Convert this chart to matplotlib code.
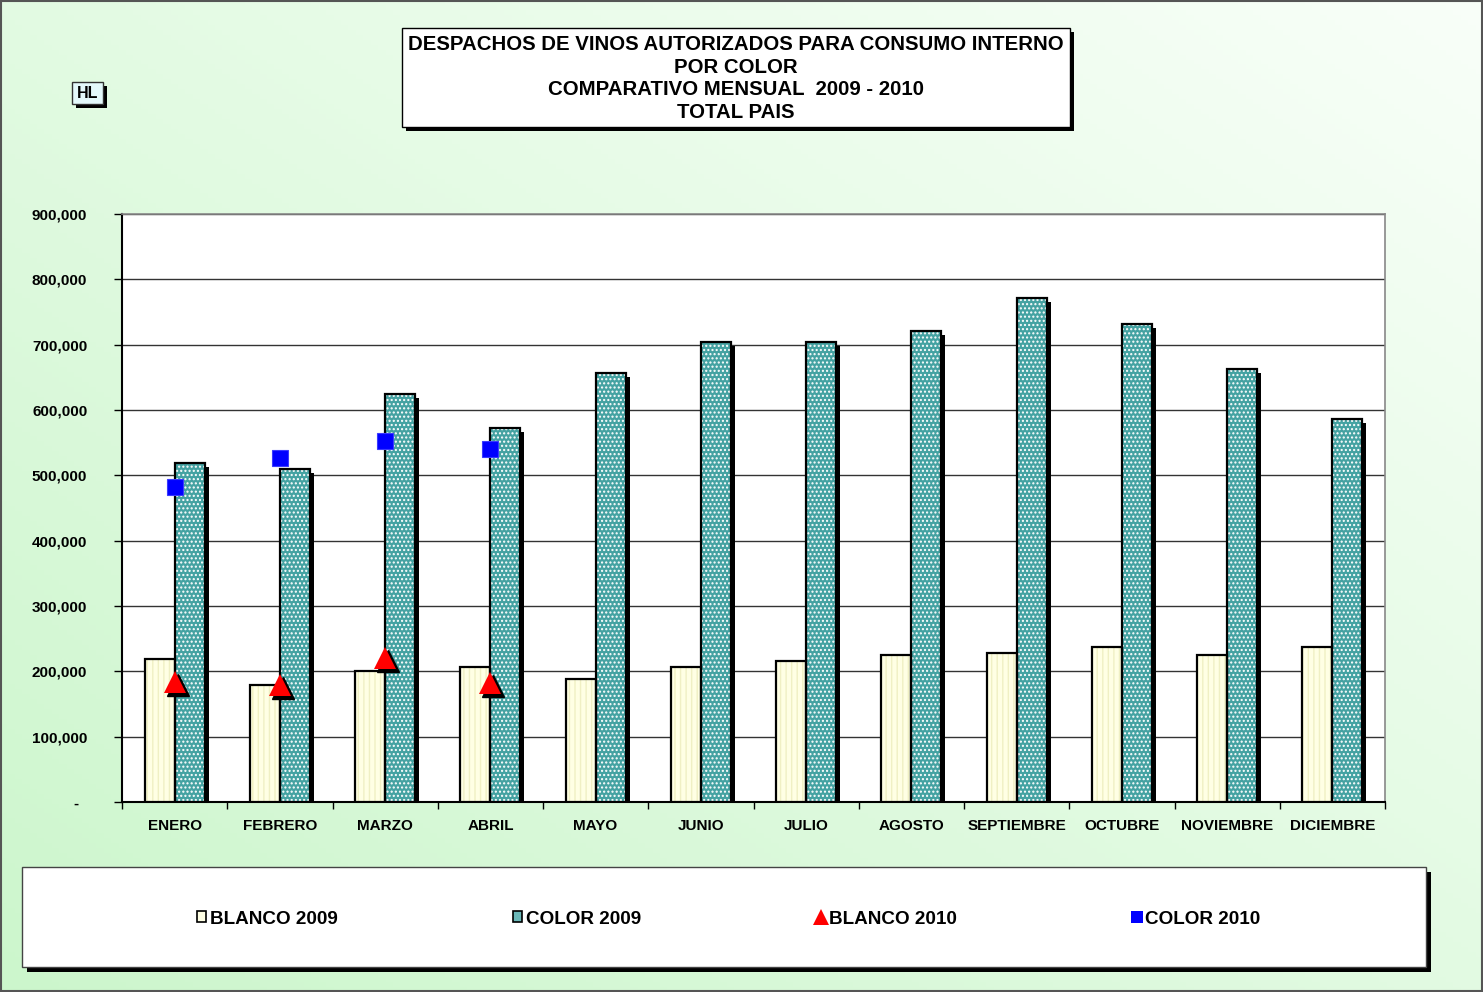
import numpy as np
import matplotlib
matplotlib.use('Agg')
import matplotlib.pyplot as plt
from matplotlib.patches import Rectangle, Patch
from matplotlib.lines import Line2D
from matplotlib.transforms import offset_copy
from matplotlib.ticker import FuncFormatter, FixedLocator

plt.rcParams['font.family'] = ['Liberation Sans', 'DejaVu Sans']
plt.rcParams['font.weight'] = 'bold'

months = ["ENERO", "FEBRERO", "MARZO", "ABRIL", "MAYO", "JUNIO", "JULIO",
          "AGOSTO", "SEPTIEMBRE", "OCTUBRE", "NOVIEMBRE", "DICIEMBRE"]
blanco_2009 = [219000, 179000, 200500, 206000, 188000, 206000, 216000,
               225000, 228000, 237000, 225000, 237000]
color_2009 = [519000, 510000, 624500, 572500, 656500, 704000, 704000,
              721000, 771500, 731500, 662500, 586500]
blanco_2010 = [184000, 179000, 220000, 182000]
color_2010 = [482000, 526000, 552000, 540000]
series_names = ["BLANCO 2009", "COLOR 2009", "BLANCO 2010", "COLOR 2010"]
yticks = list(range(0, 900001, 100000))
title_lines = ["DESPACHOS DE VINOS AUTORIZADOS PARA CONSUMO INTERNO",
               "POR COLOR",
               "COMPARATIVO MENSUAL  2009 - 2010",
               "TOTAL PAIS"]
unit_label = "HL"

W, H = 1483, 992
fig = plt.figure(figsize=(W / 100, H / 100), dpi=100)

# background gradient
bg = fig.add_axes([0, 0, 1, 1], zorder=-10)
gx, gy = np.meshgrid(np.linspace(0, 1, 200), np.linspace(0, 1, 200))
t = np.clip((gx + gy) / 2, 0, 1)  # 0 bottom-left -> 1 top-right (origin lower)
c0 = np.array([0.80, 0.965, 0.80])
c1 = np.array([0.975, 1.0, 0.975])
img = c0[None, None, :] * (1 - t[..., None]) + c1[None, None, :] * t[..., None]
bg.imshow(img, extent=[0, 1, 0, 1], aspect='auto', origin='lower')
bg.set_xlim(0, 1)
bg.set_ylim(0, 1)
bg.axis('off')


def px_rect(x0, y0, x1, y1, **kw):
    r = Rectangle((x0 / W, 1 - y1 / H), (x1 - x0) / W, (y1 - y0) / H,
                  transform=fig.transFigure, **kw)
    fig.add_artist(r)
    return r

# figure border
px_rect(1, 1, W - 1, H - 1, facecolor='none', edgecolor='#555555', lw=1.5, zorder=1)

# main axes
ax = fig.add_axes([122 / W, 1 - 802 / H, (1385 - 122) / W, (802 - 214) / H])
ax.set_facecolor('white')
x = np.arange(len(months))
w = 0.285

sh_bar = offset_copy(ax.transData, fig=fig, x=4, y=-4, units='dots')
ax.bar(x + w / 2, color_2009, w, color='black', transform=sh_bar, zorder=2, lw=0)

ax.bar(x - w / 2, blanco_2009, w, facecolor='#ffffe4', edgecolor='#f0f0c4',
       hatch='|||', lw=0, zorder=3)
ax.bar(x - w / 2, blanco_2009, w, fill=False, edgecolor='black', lw=1.6, zorder=4)
ax.bar(x + w / 2, color_2009, w, facecolor='#44a2a2', edgecolor='#ffffff',
       hatch='....', lw=0, zorder=3)
ax.bar(x + w / 2, color_2009, w, fill=False, edgecolor='black', lw=1.6, zorder=4)

x10 = np.arange(len(blanco_2010))
sh_m = offset_copy(ax.transData, fig=fig, x=3, y=-3, units='dots')
ax.plot(x10, blanco_2010, ls='none', marker='^', ms=16.5, color='black',
        transform=sh_m, zorder=5)
ax.plot(x10, blanco_2010, ls='none', marker='^', ms=16.5, color='#ff0000',
        markeredgewidth=0, zorder=6)
ax.plot(x10[:len(color_2010)], color_2010, ls='none', marker='s', ms=12,
        markerfacecolor='#0000ff', markeredgecolor='#3a3aff', markeredgewidth=0.8,
        zorder=6)

ax.set_xlim(-0.5, len(months) - 0.5)
ax.set_ylim(0, 900000)
ax.set_yticks(yticks)
ax.yaxis.set_major_formatter(FuncFormatter(lambda v, p: "-  " if v == 0 else f"{int(v):,}"))
ax.set_xticks(x)
ax.set_xticklabels(months)
ax.xaxis.set_minor_locator(FixedLocator(np.arange(-0.5, len(months), 1.0)))
ax.tick_params(axis='x', which='major', length=0, pad=12, labelsize=11)
ax.tick_params(axis='x', which='minor', length=5, width=1, color='black')
ax.tick_params(axis='y', length=6, width=1, pad=19, labelsize=11)
ax.set_axisbelow(True)
ax.yaxis.grid(True, color='#333333', lw=1)
for s in ['top', 'right']:
    ax.spines[s].set_color('#888888')
    ax.spines[s].set_linewidth(1.2)
for s in ['left', 'bottom']:
    ax.spines[s].set_color('black')
    ax.spines[s].set_linewidth(1.5)

# title box
px_rect(406, 32, 1074, 131, facecolor='black', edgecolor='none', zorder=2)
px_rect(402, 28, 1070, 127, facecolor='white', edgecolor='black', lw=1, zorder=3)
fig.text(736 / W, 1 - 78.5 / H, "\n".join(title_lines), ha='center', va='center',
         fontsize=14.7, fontweight='bold', linespacing=1.23, zorder=4)

# unit box
px_rect(76, 86, 107, 108, facecolor='black', edgecolor='none', zorder=2)
px_rect(72, 82, 103, 104, facecolor='#e4f9fb', edgecolor='#333333', lw=1, zorder=3)
fig.text(87.5 / W, 1 - 93.5 / H, unit_label, ha='center', va='center', fontsize=11.5,
         fontweight='bold', zorder=4)

# legend box
px_rect(27, 872, 1431, 972, facecolor='black', edgecolor='none', zorder=2)
px_rect(22, 867, 1426, 967, facecolor='white', edgecolor='#444444', lw=1, zorder=3)
handles = [
    Patch(facecolor='#ffffe4', edgecolor='black', lw=1.2),
    Patch(facecolor='#6ab8b8', edgecolor='black', lw=1.2),
    Line2D([], [], ls='none', marker='^', ms=11, color='#ff0000', markeredgewidth=0),
    Line2D([], [], ls='none', marker='s', ms=8, color='#0000ff', markeredgewidth=0),
]
leg = fig.legend(handles, series_names, ncol=4, loc='center left',
                 bbox_to_anchor=(197 / W, 1 - 919 / H), frameon=False,
                 prop={'size': 13.6, 'weight': 'bold'},
                 handlelength=0.5, handleheight=0.5, handletextpad=0.2,
                 columnspacing=9.25, borderpad=0, borderaxespad=0)
leg.set_zorder(5)

fig.savefig('out.png', dpi=100)
